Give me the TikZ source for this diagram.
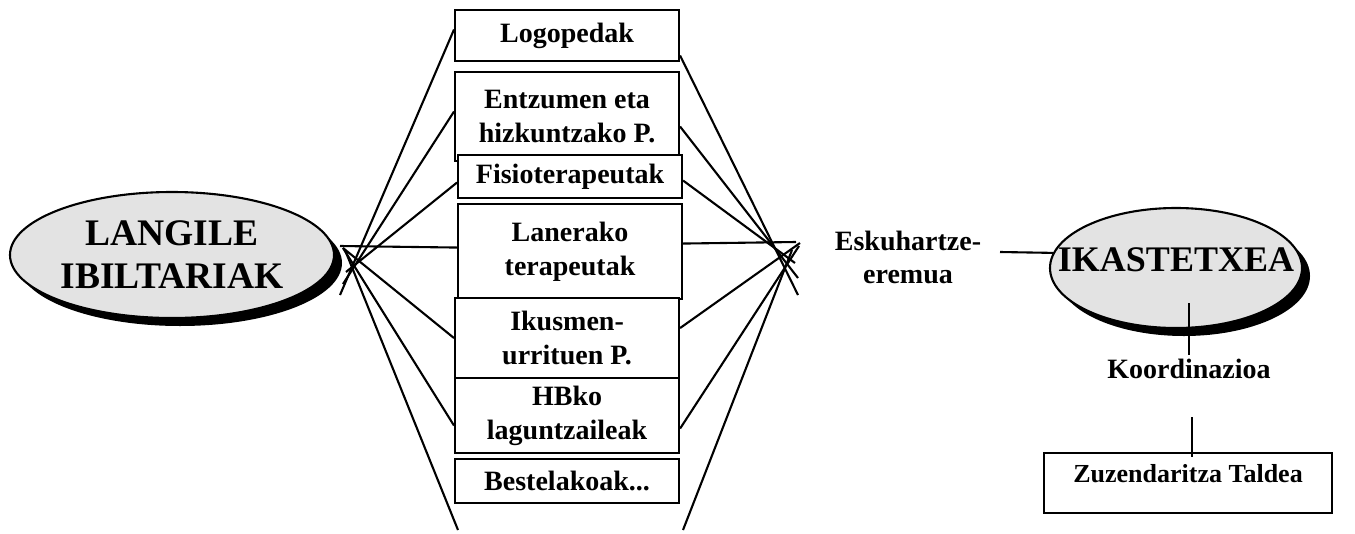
\documentclass[tikz,border=0pt]{standalone}
\usepackage{fontspec}
\setmainfont{Liberation Serif}
\usetikzlibrary{shapes.geometric, positioning, shadows}

\begin{document}
\begin{tikzpicture}[x=1pt, y=-1pt, line width=2.1pt, staffbox/.style={rectangle, draw=black, fill=white, minimum width=224pt, inner sep=0pt, anchor=north west, align=center, font=\fontsize{28}{34}\bfseries\selectfont}, bigell/.style={ellipse, draw=black, fill=black!11, inner sep=0pt, drop shadow={shadow xshift=8pt, shadow yshift=-8pt, fill=black, opacity=1}}, plaintext/.style={align=center, inner sep=3pt, font=\fontsize{28}{33}\bfseries\selectfont}, boardbox/.style={rectangle, draw=black, fill=white, minimum width=288pt, minimum height=60pt, inner sep=0pt, text height=20pt, text depth=22pt, font=\fontsize{26}{31}\bfseries\selectfont}]
    \useasboundingbox (0,0) rectangle (1355,533);

    %Nodes
    \node[bigell, minimum width=324pt, minimum height=126pt, align=center, font=\fontsize{37.5}{43}\bfseries\selectfont](staff) at (172,255){LANGILE\\IBILTARIAK};

    \node[staffbox, minimum height=51pt](logo) at (454,9){Logopedak};
    \node[staffbox, minimum height=89pt](hear) at (454,71){Entzumen eta\\hizkuntzako P.};
    \node[staffbox, minimum height=43pt](physio) at (457,154){Fisioterapeutak};
    \node[staffbox, minimum height=95pt](occup) at (457,203){Lanerako\\terapeutak};
    \node[staffbox, minimum height=80pt](vision) at (454,297){Ikusmen-\\urrituen P.};
    \node[staffbox, minimum height=75pt](special) at (454,377){HBko\\laguntzaileak};
    \node[staffbox, minimum height=44pt](other) at (454,458){Bestelakoak...};

    \node[plaintext](field) at (908,257){Eskuhartze-\\eremua};

    \node[bigell, minimum width=252pt, minimum height=120pt](school) at (1176,268){};
    \node[inner sep=0pt, font=\fontsize{36}{40}\bfseries\selectfont](school_text) at (1176,260){IKASTETXEA};

    \node[plaintext, anchor=base](coord) at (1189,378){Koordinazioa};
    \node[boardbox](board) at (1188,483){Zuzendaritza Taldea};

    %Lines
    \coordinate (lfoot1) at (340,295);
    \coordinate (lfoot2) at (343,284);
    \coordinate (lfoot3) at (346,272);
    \coordinate (lhub) at (340,246);
    \coordinate (lhub2) at (343,248);
    \coordinate (lhub3) at (345,250);
    \coordinate (lfoot4) at (458,530);
    \draw ([yshift=6pt]logo.west) -- (lfoot1);
    \draw ([yshift=5pt]hear.west) -- (lfoot2);
    \draw ([yshift=-6pt]physio.west) -- (lfoot3);
    \draw (lhub) -- ([yshift=4pt]occup.west);
    \draw (lhub2) -- (vision.west);
    \draw (lhub2) -- ([yshift=-10pt]special.west);
    \draw (lhub3) -- (lfoot4);

    \coordinate (rfoot1) at (798,295);
    \coordinate (rfoot2) at (798,278);
    \coordinate (rfoot3) at (795,263);
    \coordinate (rhub) at (796,242);
    \coordinate (rtip1) at (800,243);
    \coordinate (rtip2) at (799,246);
    \coordinate (rtip3) at (792,250);
    \coordinate (rfoot4) at (683,530);
    \draw ([yshift=-20pt]logo.east) -- (rfoot1);
    \draw ([yshift=-10pt]hear.east) -- (rfoot2);
    \draw ([yshift=-4pt]physio.east) -- (rfoot3);
    \draw ([yshift=8pt]occup.east) -- (rhub);
    \draw ([yshift=10pt]vision.east) -- (rtip1);
    \draw ([yshift=-13pt]special.east) -- (rtip2);
    \draw (rfoot4) -- (rtip3);

    \coordinate (field_end) at (1000,252);
    \draw (field_end) -- (school.173);
    \coordinate (school_in) at (1189,303);
    \draw (school_in) -- (school_in |- coord.north);
    \coordinate (coord_gap) at (1192,417);
    \draw (coord_gap) -- ([yshift=-5pt]coord_gap |- board.north);

\end{tikzpicture}
\end{document}
